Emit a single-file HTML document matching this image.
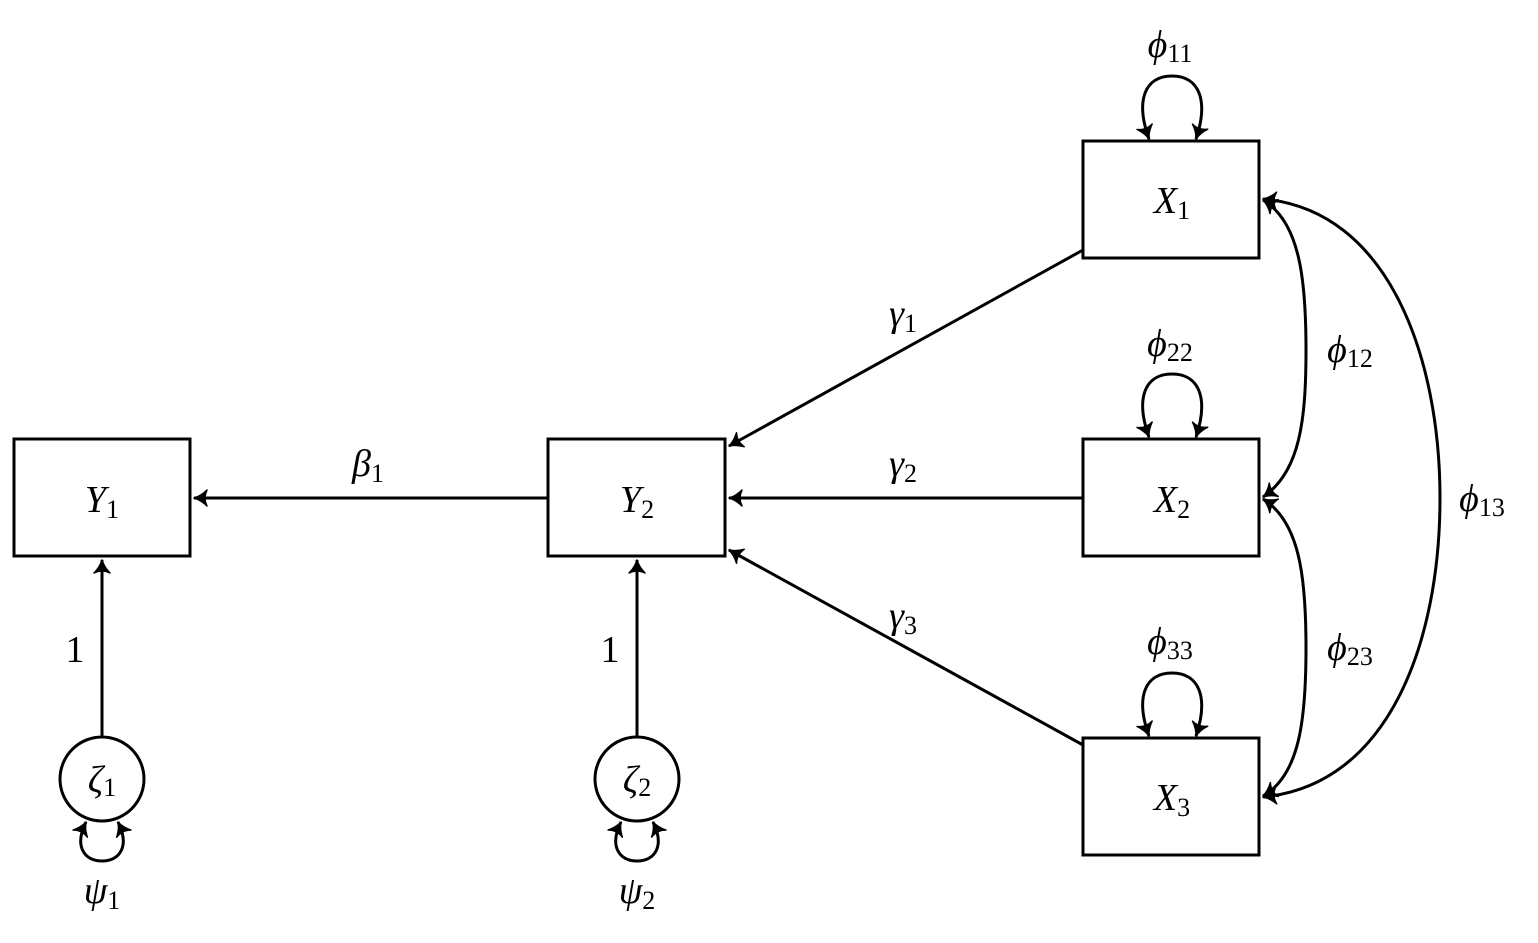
<!DOCTYPE html>
<html><head><meta charset="utf-8"><style>
html,body{margin:0;padding:0;background:#fff;}
svg text{font-family:"Liberation Serif",serif;font-style:italic;font-size:38px;fill:#000;text-anchor:middle;}
svg text .s{font-style:normal;font-size:26px;}
</style></head><body>
<svg width="1538" height="938" viewBox="0 0 1538 938" xmlns="http://www.w3.org/2000/svg">
<defs>
<marker id="a" viewBox="-15 -10 17 20" markerWidth="17" markerHeight="20" refX="0" refY="0" orient="auto-start-reverse" markerUnits="userSpaceOnUse">
<path d="M0,0 Q-7,-2 -13,-8 Q-9,0 -13,8 Q-7,2 0,0 Z" fill="#000" stroke="#000" stroke-width="1.5" stroke-linejoin="round"/>
</marker>
</defs>
<g fill="none" stroke="#000" stroke-width="3">
<rect x="14" y="439" width="176" height="117"/>
<rect x="548" y="439" width="177" height="117"/>
<rect x="1083" y="141" width="176" height="117"/>
<rect x="1083" y="439" width="176" height="117"/>
<rect x="1083" y="738" width="176" height="117"/>
<circle cx="102" cy="779" r="42"/>
<circle cx="637" cy="779" r="42"/>
<g marker-end="url(#a)">
<line x1="548" y1="498" x2="194" y2="498"/>
<line x1="1083" y1="498" x2="729" y2="498"/>
<line x1="1083" y1="250" x2="729" y2="446"/>
<line x1="1083" y1="745" x2="729" y2="550"/>
<line x1="102" y1="737" x2="102" y2="560"/>
<line x1="637" y1="737" x2="637" y2="560"/>
</g>
<g marker-start="url(#a)" marker-end="url(#a)">
<path d="M1149,139 C1135,100 1145,76 1172,76 C1199,76 1209,100 1196,139"/>
<path d="M1149,437 C1135,398 1145,374 1172,374 C1199,374 1209,398 1196,437"/>
<path d="M1149,736 C1135,697 1145,673 1172,673 C1199,673 1209,697 1196,736"/>
<path d="M86,822 C74,846 84,861 102,861 C120,861 130,846 118,822"/>
<path d="M621,822 C609,846 619,861 637,861 C655,861 665,846 653,822"/>
<path d="M1263,497 C1300,472 1306,420 1306,350 C1306,280 1300,222 1263,200"/>
<path d="M1263,499 C1300,522 1306,578 1306,648 C1306,718 1300,775 1263,796"/>
<path d="M1263,199 C1390,210 1440,360 1440,498 C1440,640 1390,785 1263,797"/>
</g>
</g>
<text x="102" y="512">Y<tspan class="s" dy="6">1</tspan></text>
<text x="637" y="512">Y<tspan class="s" dy="6">2</tspan></text>
<text x="1172" y="213">X<tspan class="s" dy="6">1</tspan></text>
<text x="1172" y="512">X<tspan class="s" dy="6">2</tspan></text>
<text x="1172" y="810">X<tspan class="s" dy="6">3</tspan></text>
<text x="102" y="792">ζ<tspan class="s" dy="4">1</tspan></text>
<text x="637" y="792">ζ<tspan class="s" dy="4">2</tspan></text>
<text x="102" y="903">ψ<tspan class="s" dy="6">1</tspan></text>
<text x="637" y="903">ψ<tspan class="s" dy="6">2</tspan></text>
<text x="368" y="476">β<tspan class="s" dy="6">1</tspan></text>
<text x="903" y="326">γ<tspan class="s" dy="6">1</tspan></text>
<text x="903" y="476">γ<tspan class="s" dy="6">2</tspan></text>
<text x="903" y="628">γ<tspan class="s" dy="6">3</tspan></text>
<text x="1170" y="57">ϕ<tspan class="s" dy="5">11</tspan></text>
<text x="1170" y="356">ϕ<tspan class="s" dy="5">22</tspan></text>
<text x="1170" y="654">ϕ<tspan class="s" dy="5">33</tspan></text>
<text x="1350" y="362">ϕ<tspan class="s" dy="5">12</tspan></text>
<text x="1350" y="660">ϕ<tspan class="s" dy="5">23</tspan></text>
<text x="1482" y="511">ϕ<tspan class="s" dy="5">13</tspan></text>
<text x="75" y="662" style="font-style:normal">1</text>
<text x="610" y="662" style="font-style:normal">1</text>
</svg>
</body></html>
